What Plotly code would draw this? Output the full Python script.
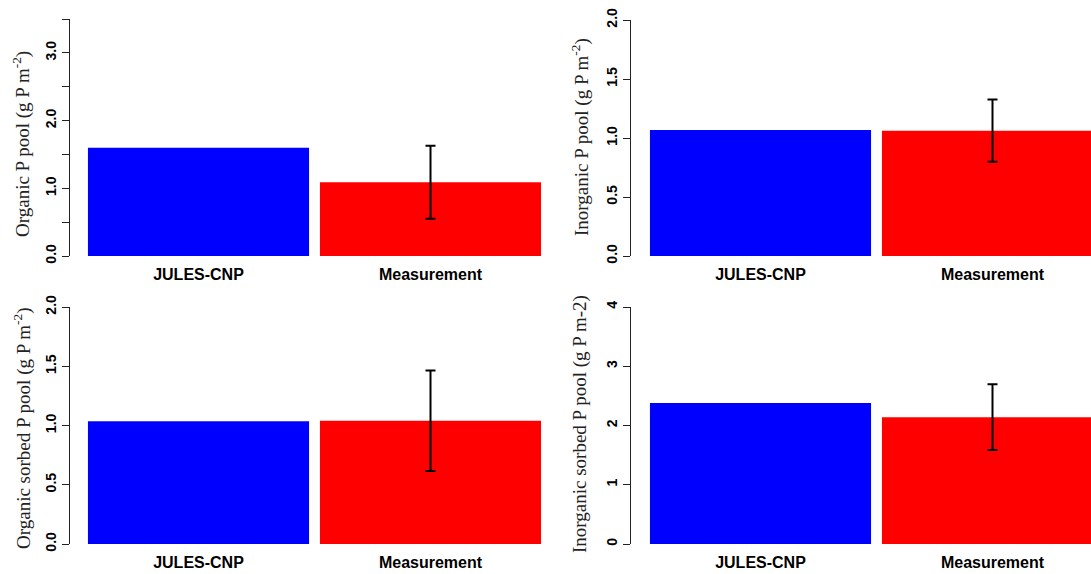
import plotly.graph_objects as go

categories = ["JULES-CNP", "Measurement"]

organic = [1.60, 1.09]
organic_err = [0.54]
inorganic = [1.068, 1.062]
inorganic_err = [0.264]
org_sorbed = [1.035, 1.04]
org_sorbed_err = [0.424]
inorg_sorbed = [2.38, 2.14]
inorg_sorbed_err = [0.555]

titles = [
    "Organic P pool (g P m<sup>-2</sup>)",
    "Inorganic P pool (g P m<sup>-2</sup>)",
    "Organic sorbed P pool (g P m<sup>-2</sup>)",
    "Inorganic sorbed P pool (g P m-2)",
]

W, H = 1091, 574
fig = go.Figure()

panels = [
    # values, err, yrange, labelled ticks, labels, minor ticks, x-px, y-px, title x, title y
    (organic, organic_err, [0, 3.5], [0, 1, 2, 3], ["0.0", "1.0", "2.0", "3.0"],
     [0.5, 1.5, 2.5, 3.5], (70, 560), (19, 256), 22, 144),
    (inorganic, inorganic_err, [0, 2], [0, 0.5, 1, 1.5, 2],
     ["0.0", "0.5", "1.0", "1.5", "2.0"], [], (631, 1091), (20, 256), 580, 137),
    (org_sorbed, org_sorbed_err, [0, 2], [0, 0.5, 1, 1.5, 2],
     ["0.0", "0.5", "1.0", "1.5", "2.0"], [], (70, 560), (307, 544), 22, 428),
    (inorg_sorbed, inorg_sorbed_err, [0, 4], [0, 1, 2, 3, 4],
     ["0", "1", "2", "3", "4"], [], (631, 1091), (307, 544), 580, 424),
]

spacing = 232.0
annotations = []
for i, (vals, err, yr, tv, tt, mv, xpx, ypx, tx, ty) in enumerate(panels):
    n = "" if i == 0 else str(i + 1)
    xa = "x" + n
    ya = "y" + n
    fig.add_trace(go.Bar(
        x=[categories[0]], y=[vals[0]], marker=dict(color="#0000FF", line=dict(width=0)),
        width=0.953, xaxis=xa, yaxis=ya, showlegend=False))
    fig.add_trace(go.Bar(
        x=[categories[1]], y=[vals[1]], marker=dict(color="#FF0000", line=dict(width=0)),
        width=0.953, xaxis=xa, yaxis=ya, showlegend=False,
        error_y=dict(type="data", array=err, symmetric=True, color="black",
                     thickness=2, width=5)))
    left, right = xpx
    top, bottom = ypx
    c0 = left + 128.5 if i % 2 == 0 else left + 129.5
    x0 = -(c0 - left) / spacing
    x1 = (right - c0) / spacing
    xkey = "xaxis" + n
    ykey = "yaxis" + n
    fig.layout[xkey] = dict(
        domain=[left / W, right / W], range=[x0, x1], anchor=ya,
        type="category", categoryorder="array", categoryarray=categories,
        showline=False, showgrid=False, zeroline=False, automargin=False,
        ticks="outside", ticklen=4, tickcolor="rgba(0,0,0,0)",
        tickfont=dict(family="Liberation Sans", size=16, color="black", weight="bold"),
    )
    ydict = dict(
        domain=[1 - bottom / H, 1 - top / H], range=yr, anchor=xa,
        showline=True, linecolor="#222", linewidth=1, automargin=False,
        showgrid=False, zeroline=False,
        ticks="outside", ticklen=7, tickwidth=1, tickcolor="#222",
        tickmode="array", tickvals=tv, ticktext=tt, tickangle=-90,
        tickfont=dict(family="Liberation Sans", size=14, color="black", weight="bold"),
    )
    if mv:
        ydict["minor"] = dict(tickmode="array", tickvals=mv, ticks="outside",
                              ticklen=7, tickwidth=1, tickcolor="#222", showgrid=False)
    fig.layout[ykey] = ydict
    annotations.append(dict(
        text=titles[i], x=tx / W, y=1 - ty / H, xref="paper", yref="paper",
        textangle=-90, showarrow=False, xanchor="center", yanchor="middle",
        font=dict(family="Liberation Serif", size=19, color="#222")))

fig.update_layout(
    width=W, height=H, margin=dict(l=0, r=0, t=0, b=0),
    plot_bgcolor="white", paper_bgcolor="white",
    barmode="overlay", showlegend=False, annotations=annotations,
)

fig.write_html("out.html")
